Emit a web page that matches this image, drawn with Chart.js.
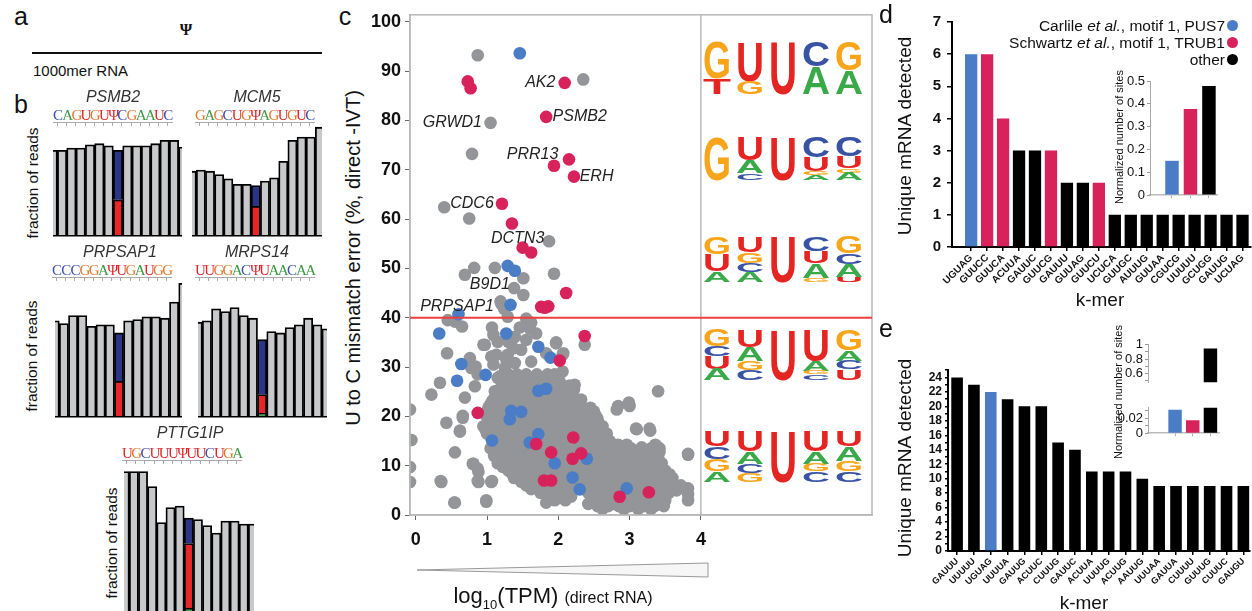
<!DOCTYPE html>
<html>
<head>
<meta charset="utf-8">
<script src="https://cdn.jsdelivr.net/npm/chart.js@4.4.0/dist/chart.umd.min.js"></script>
<style>
body{margin:0;background:#fff;}
#fig{position:relative;width:1252px;height:611px;overflow:hidden;font-family:"Liberation Sans",Arial,sans-serif;color:#111;}
.cw{position:absolute;}
.t{position:absolute;white-space:nowrap;line-height:1;}
.ctr{transform:translate(-50%,-50%);}
.rot{transform:translate(-50%,-50%) rotate(-90deg);}
.lab{font-size:25px;}
.gene{font-style:italic;font-size:16px;color:#333;}
.seq{position:absolute;display:flex;font-family:"Liberation Serif",serif;font-size:15px;line-height:1;transform:translateY(-50%);}
.seq span{display:inline-block;width:9.2px;text-align:center;}
.uline{position:absolute;height:3px;border-top:1px solid #aaa;background:repeating-linear-gradient(to right,transparent 0 4px,#aaa 4px 5px,transparent 5px 9.2px);}
.dot{position:absolute;width:11px;height:11px;border-radius:50%;}
.small{font-family:"Liberation Sans Narrow","Liberation Sans",Arial,sans-serif;font-size:11px;}
</style>
</head>
<body>
<div id="fig">
  <!-- panel a -->
  <div class="t ctr lab" style="left:21px;top:16px">a</div>
  <div class="t ctr" style="left:186px;top:30px;font-family:'Liberation Serif',serif;font-size:16px;font-weight:bold">Ψ</div>
  <div style="position:absolute;left:32px;top:52px;width:290px;height:2px;background:#111"></div>
  <div class="t" style="left:33px;top:63px;font-size:15px">1000mer RNA</div>

  <!-- panel b -->
  <div class="t ctr lab" style="left:21px;top:104px">b</div>
  <div class="t rot" style="left:33px;top:183px;font-size:15.5px">fraction of reads</div>
  <div class="t rot" style="left:32px;top:356px;font-size:15.5px">fraction of reads</div>
  <div class="t rot" style="left:112px;top:543px;font-size:15.5px">fraction of reads</div>
  <div class="cw" style="left:53px;top:125px;width:129px;height:112px"><canvas id="bPSMB2"></canvas></div>
  <div class="cw" style="left:192px;top:125px;width:130px;height:112px"><canvas id="bMCM5"></canvas></div>
  <div class="cw" style="left:55px;top:282px;width:127px;height:136px"><canvas id="bPRPSAP1"></canvas></div>
  <div class="cw" style="left:198px;top:282px;width:129px;height:136px"><canvas id="bMRPS14"></canvas></div>
  <div class="cw" style="left:124px;top:470px;width:130px;height:152px"><canvas id="bPTTG1IP"></canvas></div>

  <!-- panel c -->
  <div class="t ctr lab" style="left:345px;top:16px">c</div>
  <div class="t rot" style="left:353px;top:258px;font-size:20px">U to C mismatch error (%, direct -IVT)</div>
  <div class="cw" style="left:350px;top:0px;width:530px;height:560px"><canvas id="cScatter"></canvas></div>
  <svg id="logos" style="position:absolute;left:0;top:0" width="1252" height="611"></svg>
  <svg style="position:absolute;left:0;top:0" width="1252" height="611">
    <polygon points="417,570 708,563 708,577" fill="#f6f6f6" stroke="#999" stroke-width="1"/>
  </svg>
  <div class="t ctr" style="left:553px;top:598px;font-size:22px">log<sub style="font-size:13px">10</sub>(TPM) <span style="font-size:16px">(direct RNA)</span></div>

  <!-- panel d -->
  <div class="t ctr lab" style="left:886px;top:14px">d</div>
  <div class="t rot" style="left:904px;top:136px;font-size:19px">Unique mRNA detected</div>
  <div class="cw" style="left:890px;top:0px;width:362px;height:290px"><canvas id="dBars"></canvas></div>
  <div class="t ctr" style="left:1100px;top:299px;font-size:19px">k-mer</div>
  <div class="t" style="right:27px;top:26px;transform:translateY(-50%);font-size:15.5px">Carlile <i>et al.</i>, motif 1, PUS7</div>
  <div class="t" style="right:27px;top:43px;transform:translateY(-50%);font-size:15.5px">Schwartz <i>et al.</i>, motif 1, TRUB1</div>
  <div class="t" style="right:27px;top:60px;transform:translateY(-50%);font-size:15.5px">other</div>
  <div class="dot" style="left:1227px;top:20px;background:#4a7dc5"></div>
  <div class="dot" style="left:1227px;top:37px;background:#d7225c"></div>
  <div class="dot" style="left:1227px;top:54px;background:#000"></div>
  <div class="t rot small" style="left:1119px;top:137px">Normalized number of sites</div>
  <div class="cw" style="left:1100px;top:70px;width:118px;height:135px"><canvas id="dInset"></canvas></div>

  <!-- panel e -->
  <div class="t ctr lab" style="left:886px;top:328px">e</div>
  <div class="t rot" style="left:904px;top:458px;font-size:19px">Unique mRNA detected</div>
  <div class="cw" style="left:890px;top:360px;width:362px;height:251px"><canvas id="eBars"></canvas></div>
  <div class="t ctr" style="left:1084px;top:602px;font-size:19px">k-mer</div>
  <div class="t rot small" style="left:1118px;top:392px">Normalized number of sites</div>
  <div class="cw" style="left:1100px;top:335px;width:120px;height:57px"><canvas id="eInsetTop"></canvas></div>
  <div class="cw" style="left:1100px;top:398px;width:120px;height:45px"><canvas id="eInsetLow"></canvas></div>
</div>

<script>
// ---- panel b: fraction of reads around each site (index 7 is the Ψ position)
const geneNames = ['PSMB2', 'MCM5', 'PRPSAP1', 'MRPS14', 'PTTG1IP'];
const geneSeqs = ['CAGUGUΨCGAAUC', 'GAGCUGΨAGUGUC', 'CCCGGAΨUGAUGG', 'UUGGACΨUAACAA', 'UGCUUUΨUUCUGA'];
const readsPSMB2 = [0.77, 0.77, 0.79, 0.79, 0.82, 0.83, 0.81, 0.77, 0.81, 0.81, 0.81, 0.83, 0.86, 0.86, 0.80];
const readsMCM5 = [0.58, 0.59, 0.58, 0.55, 0.51, 0.46, 0.46, 0.45, 0.49, 0.52, 0.67, 0.86, 0.89, 0.89, 0.98];
const readsPRPSAP1 = [0.71, 0.69, 0.75, 0.75, 0.67, 0.68, 0.68, 0.62, 0.71, 0.72, 0.74, 0.74, 0.73, 0.85, 0.99];
const readsMRPS14 = [0.70, 0.71, 0.80, 0.78, 0.81, 0.75, 0.73, 0.57, 0.63, 0.62, 0.66, 0.68, 0.73, 0.68, 0.65];
const readsPTTG1IP = [0.99, 0.99, 0.99, 0.89, 0.65, 0.75, 0.76, 0.68, 0.67, 0.63, 0.58, 0.66, 0.66, 0.64, 0.64];
const psiC = [0.32, 0.26, 0.26, 0.14, 0.43];   // red part
const psiU = [0.45, 0.19, 0.36, 0.41, 0.17];   // blue part
const psiOther = [0, 0, 0, 0.02, 0.08];        // green part

// ---- panel c: log10(TPM) vs U-to-C mismatch error
const cutoff = 40;
const grayPoints = [
  [0.87,93.2],[2.35,88.3],[1.05,79.5],[0.79,73.2],[0.40,62.4],[0.75,60.1],[1.87,55.5],[0.69,48.7],[0.82,50.1],
  [1.11,50.1],[1.51,48.0],[1.94,48.9],[1.38,46.0],[1.51,44.6],[1.19,43.3],[1.24,41.8],[1.29,40.2],[1.55,39.8],
  [1.62,39.0],[0.55,39.2],[0.65,38.2],[1.07,38.0],[1.46,38.0],[1.20,42.8],[0.45,39.5],[0.97,34.5],[1.15,35.1],
  [1.39,36.1],[1.60,37.8],[1.55,35.5],[0.44,32.8],[1.06,32.1],[1.29,32.5],[1.48,33.5],[1.62,31.1],[0.78,29.8],
  [0.87,28.5],[1.25,29.8],[1.39,30.8],[1.15,27.8],[1.25,26.4],[0.34,26.8],[0.83,26.1],[1.39,27.8],[0.69,23.8],
  [1.11,25.1],[-0.08,21.4],[-0.06,15.2],[-0.08,9.7],[-0.08,6.7],[0.22,24.4],[0.43,18.7],[0.36,6.7],[0.55,2.5],
  [0.62,17.1],[0.66,20.1],[0.76,31.8],[0.81,10.4],[0.88,8.7],[0.88,6.7],[0.99,2.7],[1.06,6.7],[0.84,30.1],
  [0.95,34.5],[1.09,36.5],[1.30,35.1],[1.37,33.8],[1.13,32.5],[1.27,31.5],[1.69,36.8],[1.97,34.8],[2.06,32.5],
  [2.37,34.5],[1.83,32.8],[1.09,30.5],[1.18,28.1],[1.60,27.8],[1.83,27.8],[2.06,29.1],[2.23,26.4],[1.97,25.4],
  [3.40,25.1],[2.82,21.4],[3.00,22.1],[3.10,17.4],[3.29,17.1],[3.40,13.7],[3.82,12.2],[1.83,2.5],[2.49,19.4],
  [2.58,17.4],[2.68,14.4],[3.66,5.0],[3.82,5.4],[3.82,3.0],[3.82,4.2],[1.97,35.0],[2.07,32.8],[2.32,23.4],
  [2.84,22.1],[2.99,22.8],[0.62,16.9],[0.55,12.7],[0.80,10.4],[0.87,9.4],[0.35,6.9],[0.87,6.9],[1.07,6.9],
  [0.54,2.5],[0.99,3.0],[0.66,19.7],[3.09,17.5],[3.28,17.5],[3.17,13.7],[3.38,13.7],[3.40,11.7],[3.82,12.4],
  // dense core
  [1.30,28.5],[1.42,28.5],[1.55,28.5],[1.70,28.5],[1.85,28.5],[1.95,28.5],
  [1.36,27.75],[1.48,27.75],[1.62,27.75],[1.78,27.75],[1.92,27.75],
  [1.25,27],[1.38,27],[1.50,27],[1.62,27],[1.76,27],[1.90,27],[2.02,27],
  [1.22,26.25],[1.34,26.25],[1.46,26.25],[1.58,26.25],[1.70,26.25],[1.82,26.25],[1.94,26.25],[2.06,26.25],[2.16,26.25],
  [1.18,25.5],[1.30,25.5],[1.44,25.5],[1.56,25.5],[1.68,25.5],[1.95,25.5],[2.10,25.5],[2.22,25.5],
  [1.16,24.75],[1.28,24.75],[1.42,24.75],[1.54,24.75],[1.66,24.75],[1.80,24.75],[1.92,24.75],[2.06,24.75],[2.20,24.75],
  [1.12,24],[1.25,24],[1.38,24],[1.50,24],[1.62,24],[1.75,24],[1.88,24],[2.00,24],[2.14,24],
  [1.08,23.25],[1.22,23.25],[1.35,23.25],[1.45,23.25],[1.62,23.25],[1.74,23.25],[1.86,23.25],[1.98,23.25],[2.12,23.25],[2.25,23.25],
  [1.05,22.5],[1.18,22.5],[1.30,22.5],[1.56,22.5],[1.68,22.5],[1.80,22.5],[1.92,22.5],[2.05,22.5],[2.18,22.5],[2.30,22.5],
  [1.02,21.75],[1.15,21.75],[1.28,21.75],[1.40,21.75],[1.52,21.75],[1.66,21.75],[1.78,21.75],[1.92,21.75],[2.05,21.75],[2.18,21.75],[2.32,21.75],[2.45,21.75],
  [1.00,21],[1.12,21],[1.24,21],[1.60,21],[1.72,21],[1.85,21],[1.98,21],[2.25,21],[2.38,21],[2.50,21],
  [0.98,20.25],[1.08,20.25],[1.20,20.25],[1.45,20.25],[1.62,20.25],[1.74,20.25],[1.86,20.25],[1.98,20.25],[2.12,20.25],[2.30,20.25],[2.42,20.25],[2.52,20.25],
  [1.02,19.5],[1.15,19.5],[1.28,19.5],[1.40,19.5],[1.55,19.5],[1.68,19.5],[1.80,19.5],[1.92,19.5],[2.05,19.5],[2.20,19.5],[2.45,19.5],[2.55,19.5],
  [1.05,18.75],[1.14,18.75],[1.26,18.75],[1.40,18.75],[1.52,18.75],[1.64,18.75],[1.76,18.75],[1.90,18.75],[2.02,18.75],[2.16,18.75],[2.28,18.75],[2.40,18.75],[2.56,18.75],
  [0.95,18],[1.08,18],[1.20,18],[1.33,18],[1.46,18],[1.58,18],[1.70,18],[1.83,18],[1.96,18],[2.10,18],[2.50,18],[2.62,18],
  [0.98,17.25],[1.06,17.25],[1.18,17.25],[1.32,17.25],[1.44,17.25],[1.56,17.25],[1.68,17.25],[1.80,17.25],[1.92,17.25],[2.04,17.25],[2.18,17.25],[2.32,17.25],[2.45,17.25],[2.60,17.25],
  [1.00,16.5],[1.12,16.5],[1.25,16.5],[1.38,16.5],[1.50,16.5],[1.62,16.5],[1.85,16.5],[1.98,16.5],[2.10,16.5],[2.25,16.5],[2.40,16.5],[2.55,16.5],[2.68,16.5],
  [1.06,15.75],[1.24,15.75],[1.36,15.75],[1.48,15.75],[1.62,15.75],[1.74,15.75],[1.86,15.75],[2.00,15.75],[2.12,15.75],[2.28,15.75],[2.42,15.75],[2.55,15.75],[2.66,15.75],
  [1.18,15],[1.30,15],[1.42,15],[1.55,15],[1.80,15],[1.92,15],[2.05,15],[2.35,15],[2.48,15],[2.60,15],[2.72,15],
  [1.12,14.25],[1.24,14.25],[1.36,14.25],[1.48,14.25],[1.62,14.25],[1.72,14.25],[1.86,14.25],[1.98,14.25],[2.10,14.25],[2.28,14.25],[2.46,14.25],[2.58,14.25],[2.70,14.25],[2.84,14.25],[2.96,14.25],[3.36,14.25],
  [1.05,13.5],[1.18,13.5],[1.30,13.5],[1.42,13.5],[1.55,13.5],[1.78,13.5],[2.00,13.5],[2.12,13.5],[2.40,13.5],[2.52,13.5],[2.65,13.5],[2.78,13.5],[2.90,13.5],[3.02,13.5],[3.30,13.5],[3.42,13.5],
  [1.16,12.75],[1.28,12.75],[1.42,12.75],[1.54,12.75],[1.66,12.75],[1.82,12.75],[2.10,12.75],[2.22,12.75],[2.46,12.75],[2.58,12.75],[2.72,12.75],[2.84,12.75],[2.96,12.75],[3.10,12.75],[3.24,12.75],[3.42,12.75],
  [1.10,12],[1.22,12],[1.35,12],[1.48,12],[1.60,12],[1.75,12],[2.05,12],[2.52,12],[2.65,12],[2.78,12],[2.90,12],[3.05,12],[3.18,12],[3.30,12],
  [1.22,11.25],[1.34,11.25],[1.46,11.25],[1.58,11.25],[1.70,11.25],[1.84,11.25],[2.00,11.25],[2.14,11.25],[2.48,11.25],[2.62,11.25],[2.76,11.25],[2.88,11.25],[3.00,11.25],[3.14,11.25],[3.26,11.25],[3.38,11.25],
  [1.15,10.5],[1.28,10.5],[1.40,10.5],[1.52,10.5],[1.65,10.5],[1.78,10.5],[1.88,10.5],[2.10,10.5],[2.28,10.5],[2.55,10.5],[2.70,10.5],[2.82,10.5],[2.95,10.5],[3.08,10.5],[3.20,10.5],[3.32,10.5],[3.45,10.5],
  [1.22,9.75],[1.36,9.75],[1.48,9.75],[1.60,9.75],[1.74,9.75],[1.86,9.75],[2.04,9.75],[2.18,9.75],[2.32,9.75],[2.44,9.75],[2.56,9.75],[2.68,9.75],[2.82,9.75],[2.94,9.75],[3.06,9.75],[3.18,9.75],[3.30,9.75],[3.44,9.75],
  [1.30,9],[1.42,9],[1.55,9],[1.68,9],[1.80,9],[2.00,9],[2.12,9],[2.25,9],[2.38,9],[2.50,9],[2.62,9],[2.75,9],[2.88,9],[3.00,9],[3.12,9],[3.25,9],[3.38,9],[3.50,9],
  [1.36,8.25],[1.48,8.25],[1.60,8.25],[1.74,8.25],[1.88,8.25],[2.00,8.25],[2.14,8.25],[2.28,8.25],[2.42,8.25],[2.56,8.25],[2.68,8.25],[2.80,8.25],[2.92,8.25],[3.04,8.25],[3.16,8.25],[3.28,8.25],[3.42,8.25],[3.56,8.25],
  [1.38,7.5],[1.50,7.5],[1.62,7.5],[2.05,7.5],[2.35,7.5],[2.48,7.5],[2.60,7.5],[2.72,7.5],[2.85,7.5],[2.98,7.5],[3.10,7.5],[3.22,7.5],[3.35,7.5],[3.48,7.5],[3.60,7.5],
  [1.48,6.75],[1.60,6.75],[1.74,6.75],[1.88,6.75],[2.00,6.75],[2.14,6.75],[2.28,6.75],[2.40,6.75],[2.52,6.75],[2.64,6.75],[2.76,6.75],[2.90,6.75],[3.02,6.75],[3.14,6.75],[3.28,6.75],[3.46,6.75],[3.60,6.75],
  [1.55,6],[1.68,6],[1.82,6],[1.95,6],[2.08,6],[2.45,6],[2.58,6],[2.70,6],[2.82,6],[3.08,6],[3.20,6],[3.40,6],[3.52,6],[3.72,6],
  [1.62,5.25],[1.78,5.25],[1.92,5.25],[2.06,5.25],[2.20,5.25],[2.36,5.25],[2.50,5.25],[2.62,5.25],[2.74,5.25],[2.88,5.25],[3.00,5.25],[3.12,5.25],[3.26,5.25],[3.46,5.25],[3.60,5.25],
  [1.75,4.5],[1.88,4.5],[2.00,4.5],[2.12,4.5],[2.42,4.5],[2.55,4.5],[2.68,4.5],[2.80,4.5],[3.05,4.5],[3.18,4.5],[3.40,4.5],[3.55,4.5],
  [1.88,3.75],[2.04,3.75],[2.18,3.75],[2.46,3.75],[2.58,3.75],[2.70,3.75],[2.84,3.75],[2.96,3.75],[3.08,3.75],[3.22,3.75],[3.34,3.75],[3.46,3.75],
  [1.95,3],[2.10,3],[2.50,3],[2.62,3],[2.75,3],[3.00,3],[3.12,3],[3.25,3],[3.38,3],[3.50,3],
  [2.42,2.25],[2.60,2.25],[2.78,2.25],[2.92,2.25],[3.08,2.25],[3.28,2.25],[3.42,2.25],
  [2.55,1.8],[2.70,1.8],[2.85,1.8],[3.00,1.8],[3.20,1.8],[3.35,1.8],[3.48,1.8],
  [2.62,1.2],[2.92,1.2],[3.12,1.2],[3.30,1.2]
];
const bluePoints = [
  [1.46,93.6],[1.29,50.5],[1.39,49.5],[1.33,42.6],[0.60,40.7],[0.33,36.8],[1.27,36.8],[1.72,34.1],[1.89,31.9],
  [0.64,30.6],[0.98,28.4],[0.58,27.2],[1.72,25.2],[1.83,25.6],[1.34,21.1],[1.48,20.9],[1.32,19.4],[1.07,15.1],
  [1.72,16.4],[1.60,14.7],[1.95,10.5],[2.40,11.4],[2.20,7.6],[2.30,5.2],[2.96,5.4]
];
const pinkPoints = [
  [0.73,87.9],[0.77,86.5],[2.09,87.6],[1.83,80.7],[1.94,70.8],[2.15,72.1],[2.22,68.6],[1.21,63.1],[1.35,59.1],
  [1.50,54.2],[1.62,53.2],[2.11,45.0],[1.76,42.2],[1.86,42.3],[1.81,42.0],[2.37,36.3],[2.02,31.3],[0.87,20.7],
  [1.69,14.4],[1.90,12.7],[2.21,15.7],[2.20,11.4],[2.32,12.5],[1.80,7.0],[1.90,7.0],[2.86,3.7],[3.27,4.6]
];
const pointLabels = [
  ['AK2', 1.96, 87.6, 'right'], ['GRWD1', 0.93, 79.5, 'right'], ['PSMB2', 1.92, 80.7, 'left'],
  ['PRR13', 1.64, 73.1, 'center'], ['ERH', 2.30, 68.7, 'left'], ['CDC6', 0.79, 63.1, 'center'],
  ['DCTN3', 1.43, 56.0, 'center'], ['B9D1', 1.04, 46.8, 'center'], ['PRPSAP1', 0.58, 42.2, 'center']
];
const xTicksC = [0, 1, 2, 3, 4];

// ---- panel d
const kmersD = ['UGUAG','GUUCC','GUUCA','ACUUA','GAUUC','GUUCG','GAUUU','GUUAG','GUUCU','UCUCA','GUUGC','AUUUG','GUUAA','CGUCG','UUUUU','GCUGG','GAUUG','UCUAG'];
const countsD = [6, 6, 4, 3, 3, 3, 2, 2, 2, 1, 1, 1, 1, 1, 1, 1, 1, 1];
const groupD = ['b','p','p','k','k','p','k','k','p','k','k','k','k','k','k','k','k','k'];
const insetD = [0.15, 0.377, 0.478];

// ---- panel e
const kmersE = ['GAUUU','UUUUU','UGUAG','UUUUA','GAUUG','ACUUC','CUUUG','GAUUC','ACUUA','UUUUG','ACUUG','AAUUG','UUUAA','GAUUA','CUUUU','GUUUG','CUUUC','GAUGU'];
const countsE = [24, 23, 22, 21, 20, 20, 15, 14, 11, 11, 11, 10, 9, 9, 9, 9, 9, 9];
const groupE = ['k','k','b','k','k','k','k','k','k','k','k','k','k','k','k','k','k','k'];
const insetE = [0.031, 0.017, 0.95];

const groupColors = { b: '#4a7dc5', p: '#d7225c', k: '#000' };
const insetColors = ['#4a7dc5', '#d7225c', '#000'];

Chart.defaults.font.family = '"Liberation Sans", Arial, sans-serif';
Chart.defaults.color = '#111';
Chart.defaults.animation = false;
Chart.defaults.events = [];
Chart.defaults.maintainAspectRatio = false;
Chart.defaults.plugins.legend.display = false;
Chart.defaults.plugins.tooltip.enabled = false;

// sequences above the read bars
const seqPos = [[53, 115], [195, 115], [52, 270], [195, 270], [122, 453]];
const namePos = [[113, 97], [257, 97], [120, 252], [257, 252], [190, 433]];
const letterColor = { A: '#3c9a44', C: '#3a4fb0', G: '#e07a2f', U: '#e3262b', 'Ψ': '#e3262b' };
const fig = document.getElementById('fig');
geneNames.forEach((g, i) => {
  const n = document.createElement('div');
  n.className = 't ctr gene';
  n.style.left = namePos[i][0] + 'px';
  n.style.top = namePos[i][1] + 'px';
  n.textContent = g;
  fig.appendChild(n);
  const s = document.createElement('div');
  s.className = 'seq';
  s.style.left = seqPos[i][0] + 'px';
  s.style.top = seqPos[i][1] + 'px';
  for (const ch of geneSeqs[i]) {
    const sp = document.createElement('span');
    sp.textContent = ch;
    sp.style.color = letterColor[ch];
    s.appendChild(sp);
  }
  fig.appendChild(s);
  const u = document.createElement('div');
  u.className = 'uline';
  u.style.left = seqPos[i][0] + 'px';
  u.style.top = (seqPos[i][1] + 7) + 'px';
  u.style.width = (13 * 9.2) + 'px';
  fig.appendChild(u);
});

function readsChart(id, reads, k, xmin, xmax) {
  const pick = v => reads.map((r, i) => ({ x: i, y: i === 7 ? v : null }));
  new Chart(document.getElementById(id), {
    type: 'bar',
    data: {
      datasets: [
        { data: reads.map((r, i) => ({ x: i, y: i === 7 ? null : r })), backgroundColor: '#c8c9cb' },
        { data: pick(psiOther[k]), backgroundColor: '#4aa34a' },
        { data: pick(psiC[k]), backgroundColor: '#e8262a' },
        { data: pick(psiU[k]), backgroundColor: '#2b3586' }
      ]
    },
    options: {
      layout: { padding: { bottom: 2 } },
      datasets: { bar: { barPercentage: 1, categoryPercentage: 1, borderColor: '#000', borderWidth: 1.8 } },
      scales: {
        x: { type: 'linear', stacked: true, offset: false, min: xmin, max: xmax, ticks: { display: false },
             grid: { display: false, drawTicks: false, offset: false }, border: { display: true, color: '#000', width: 2.5 } },
        y: { stacked: true, min: 0, max: 1, display: false }
      }
    }
  });
}
readsChart('bPSMB2', readsPSMB2, 0, 0.03, 13.86);
readsChart('bMCM5', readsMCM5, 1, 0.03, 14.23);
readsChart('bPRPSAP1', readsPRPSAP1, 2, 0.03, 13.86);
readsChart('bMRPS14', readsMRPS14, 3, 0.03, 14.05);
readsChart('bPTTG1IP', readsPTTG1IP, 4, -0.08, 14.12);

// scatter decorations: frame, x=4 divider, cutoff line, gene labels
const scatterDeco = {
  id: 'scatterDeco',
  afterDatasetsDraw(chart) {
    const { ctx, chartArea: a, scales: { x, y } } = chart;
    ctx.save();
    ctx.strokeStyle = '#b8b8b8';
    ctx.lineWidth = 1.5;
    ctx.strokeRect(a.left, a.top, a.right - a.left, a.bottom - a.top);
    const x4 = x.getPixelForValue(4);
    ctx.beginPath(); ctx.moveTo(x4, a.top); ctx.lineTo(x4, a.bottom); ctx.stroke();
    const yc = y.getPixelForValue(cutoff);
    ctx.strokeStyle = '#ef3e3e';
    ctx.lineWidth = 2;
    ctx.beginPath(); ctx.moveTo(a.left, yc); ctx.lineTo(a.right, yc); ctx.stroke();
    ctx.fillStyle = '#222';
    ctx.font = 'italic 16px "Liberation Sans", Arial';
    ctx.textBaseline = 'middle';
    pointLabels.forEach(l => {
      ctx.textAlign = l[3];
      ctx.fillText(l[0], x.getPixelForValue(l[1]), y.getPixelForValue(l[2]));
    });
    ctx.restore();
  }
};
const toXY = arr => arr.map(p => ({ x: p[0], y: p[1] }));
new Chart(document.getElementById('cScatter'), {
  type: 'scatter',
  data: {
    datasets: [
      { data: toXY(pinkPoints), backgroundColor: '#d7225c', order: 1 },
      { data: toXY(bluePoints), backgroundColor: '#4a7dc5', order: 1 },
      { data: toXY(grayPoints), backgroundColor: '#939598', order: 2 }
    ]
  },
  options: {
    layout: { padding: { top: 10, right: 8, left: 0, bottom: 0 } },
    elements: { point: { radius: 6.3, borderWidth: 0 } },
    scales: {
      x: { type: 'linear', min: -0.08, max: 6.4,
           afterBuildTicks: s => { s.ticks = xTicksC.map(v => ({ value: v })); },
           afterFit: s => { s.height = 45; },
           ticks: { font: { size: 18, weight: 'bold' }, padding: 9 },
           grid: { drawOnChartArea: false, tickLength: 5, color: '#666' },
           border: { color: '#b8b8b8', width: 1.5 } },
      y: { min: 0, max: 101.4,
           afterFit: s => { s.width = 60; },
           ticks: { stepSize: 10, includeBounds: false, font: { size: 18, weight: 'bold' }, padding: 4 },
           grid: { drawOnChartArea: false, tickLength: 5, color: '#666' },
           border: { color: '#b8b8b8', width: 1.5 } }
    }
  },
  plugins: [scatterDeco]
});

// sequence logos inside panel c (letter: share of column height)
const logoTop = [41, 136, 236, 329, 430];
const logoBot = [94, 180, 282, 380, 482];
const logoColX = [703, 736, 769, 802, 835];
const logos = [
  ['G70 T30', 'U75 G25', 'U100', 'C48 A52', 'G55 A45'],
  ['G100', 'U55 A30 C15', 'U100', 'C48 U32 G8 A12', 'C45 U28 G10 A17'],
  ['G38 U38 A24', 'U35 G23 C20 A22', 'U100', 'C32 U27 A32 G9', 'G36 C24 A28 U12'],
  ['G33 C20 U25 A22', 'U35 A28 G17 C20', 'U100', 'U62 A20 G7 C11', 'G41 A21 C17 U21'],
  ['U31 C24 G24 A21', 'U41 A24 C17 G18', 'U100', 'U41 A24 G14 C21', 'U31 A28 G20 C21']
];
const logoColor = { G: '#f9a51b', U: '#e52521', C: '#3853a4', A: '#39a949', T: '#e52521' };
const glyphW = { G: 77.8, U: 72.2, C: 72.2, A: 72.2, T: 61.1 };
let svg = '';
logos.forEach((row, r) => {
  const H = logoBot[r] - logoTop[r];
  row.forEach((col, c) => {
    let y = logoTop[r];
    col.split(' ').forEach(tok => {
      const L = tok[0], h = H * parseFloat(tok.slice(1)) / 100;
      const sx = 28 / glyphW[L], sy = h / 72;
      svg += `<text transform="translate(${logoColX[c]},${(y + h).toFixed(1)}) scale(${sx.toFixed(3)},${sy.toFixed(3)})" font-family="Liberation Sans, Arial" font-weight="bold" font-size="100" fill="${logoColor[L]}">${L}</text>`;
      y += h;
    });
  });
});
document.getElementById('logos').innerHTML = svg;

// bar charts for d and e
function kmerChart(id, kmers, counts, groups, opt) {
  new Chart(document.getElementById(id), {
    type: 'bar',
    data: { datasets: [{ data: counts.map((v, i) => ({ x: i, y: v })), backgroundColor: groups.map(g => groupColors[g]) }] },
    options: {
      layout: { padding: { top: opt.padTop, right: 0 } },
      datasets: { bar: { barPercentage: opt.barPct, categoryPercentage: 1 } },
      scales: {
        x: { type: 'linear', offset: false, min: opt.xmin, max: opt.xmax,
             afterBuildTicks: s => { s.ticks = kmers.map((k, i) => ({ value: i })); },
             afterFit: s => { s.height = opt.xh; },
             ticks: { autoSkip: false, minRotation: 45, maxRotation: 45, padding: 1,
                      font: { size: opt.xFont, weight: 'bold' }, callback: v => kmers[v] },
             grid: { drawOnChartArea: false, offset: false, tickLength: 4, color: '#000', lineWidth: 1.5 },
             border: { color: '#000', width: 2 } },
        y: { min: 0, max: opt.ymax,
             afterFit: s => { s.width = opt.yw; },
             ticks: { stepSize: opt.step, autoSkip: false, padding: opt.yPad, font: { size: opt.yFont, weight: 'bold' },
                      callback: opt.yLabel },
             grid: { drawOnChartArea: false, tickLength: opt.yTick, color: '#000', lineWidth: 1.5 },
             border: { color: '#000', width: 2 } }
      }
    }
  });
}
kmerChart('dBars', kmersD, countsD, groupD, {
  padTop: 22, barPct: 0.77, xmin: -1.2, xmax: 17.5, xh: 43, xFont: 10,
  ymax: 7, yw: 62, step: 1, yPad: 6, yFont: 15, yTick: 5, yLabel: v => v
});
kmerChart('eBars', kmersE, countsE, groupE, {
  padTop: 9, barPct: 0.69, xmin: -0.54, xmax: 17.4, xh: 60, xFont: 9,
  ymax: 25, yw: 58, step: 1, yPad: 3, yFont: 12, yTick: 3, yLabel: v => (v % 2 === 0 ? v : '')
});

function insetChart(id, values, o) {
  new Chart(document.getElementById(id), {
    type: 'bar',
    data: { datasets: [{ data: values.map((v, i) => ({ x: i, y: v })), backgroundColor: insetColors }] },
    options: {
      layout: { padding: { top: o.padTop } },
      datasets: { bar: { barPercentage: o.barPct, categoryPercentage: 1 } },
      scales: {
        x: { type: 'linear', offset: false, min: o.xmin, max: o.xmax, display: o.showX,
             afterBuildTicks: s => { s.ticks = values.map((v, i) => ({ value: i })); },
             afterFit: s => { s.height = o.xh; },
             ticks: { display: false },
             grid: { drawOnChartArea: false, offset: false, tickLength: 3, color: '#aaa' },
             border: { color: '#bbb', width: 1.5 } },
        y: { min: o.ymin, max: o.ymax,
             afterFit: s => { s.width = o.yw; },
             ticks: { stepSize: o.step, autoSkip: false, includeBounds: false, padding: 2, font: { size: 13 }, callback: o.yLabel },
             grid: { drawOnChartArea: false, tickLength: 3, color: '#999' },
             border: { color: '#aaa', width: 1 } }
      }
    }
  });
}
insetChart('dInset', insetD, {
  padTop: 11, barPct: 0.73, xmin: -1.19, xmax: 2.49, showX: true, xh: 10,
  ymin: 0, ymax: 0.5, yw: 50, step: 0.1, yLabel: v => (v === 0 ? '0' : v.toFixed(1))
});
insetChart('eInsetTop', [null, null, insetE[2]], {
  padTop: 8.3, barPct: 0.76, xmin: -1.53, xmax: 2.54, showX: false, xh: 0,
  ymin: 0.48, ymax: 1, yw: 48, step: 0.1,
  yLabel: v => { const r = Math.round(v * 10); return r === 10 ? '1' : (r === 6 || r === 8 ? (r / 10).toFixed(1) : ''); }
});
insetChart('eInsetLow', insetE, {
  padTop: 3.5, barPct: 0.76, xmin: -1.53, xmax: 2.54, showX: true, xh: 4,
  ymin: 0, ymax: 0.0335, yw: 48, step: 0.01,
  yLabel: v => { const r = Math.round(v * 100); return r === 0 ? '0' : (r === 2 ? '0.02' : ''); }
});
</script>
</body>
</html>
